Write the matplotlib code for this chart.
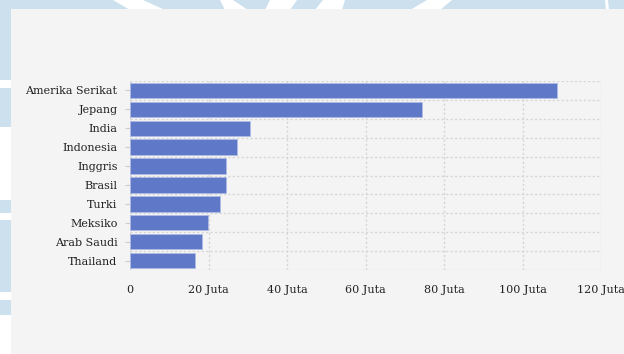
import matplotlib
matplotlib.use("Agg")
import matplotlib.pyplot as plt
from matplotlib.patches import Rectangle, Polygon
from matplotlib.ticker import FixedLocator, FuncFormatter

countries = ["Amerika Serikat", "Jepang", "India", "Indonesia", "Inggris",
             "Brasil", "Turki", "Meksiko", "Arab Saudi", "Thailand"]
values = [108.8, 74.4, 30.6, 27.3, 24.5, 24.4, 22.9, 19.9, 18.3, 16.5]  # juta
xticks = [0, 20, 40, 60, 80, 100, 120]

plt.rcParams['font.family'] = ['DejaVu Serif']

W, H = 624, 354
fig = plt.figure(figsize=(W / 100, H / 100), dpi=100)
fig.patch.set_facecolor('#cce0ee')


def px(points):
    return [(x / W, 1 - y / H) for x, y in points]


# white watermark shapes in the background strips
white_shapes = [
    [(113, 0), (143, 0), (165, 10), (130, 10)],
    [(220, 0), (233, 0), (248, 10), (225, 10)],
    [(270, 0), (297, 0), (290, 10), (265, 10)],
    [(323, 0), (345, 0), (342, 10), (315, 10)],
    [(427, 0), (452, 0), (440, 10), (410, 10)],
    [(605, 0), (608, 0), (609, 10), (606, 10)],
    [(0, 80), (12, 80), (12, 88), (0, 88)],
    [(0, 127), (12, 127), (12, 200), (0, 200)],
    [(0, 213), (12, 213), (12, 220), (0, 220)],
    [(0, 292), (12, 292), (12, 300), (0, 300)],
    [(0, 315), (12, 315), (12, 354), (0, 354)],
]
for shp in white_shapes:
    fig.patches.append(Polygon(px(shp), closed=True, transform=fig.transFigure,
                               facecolor='#ffffff', edgecolor='none', zorder=-6))

fig.patches.append(Rectangle((11 / W, 0), 1 - 11 / W, 1 - 9 / H,
                             transform=fig.transFigure, facecolor='#f4f4f4',
                             edgecolor='none', zorder=-5))

ax = fig.add_axes([130 / W, 1 - 270 / H, 471 / W, 189 / H])
ax.set_facecolor('none')
ax.set_zorder(2)

y = list(range(len(countries)))
ax.barh(y, values, height=0.82, color='#6078c8', edgecolor='#aebbe6',
        linewidth=0.6, zorder=3)

ax.set_xlim(0, 120)
ax.set_ylim(len(countries) - 0.5, -0.5)
ax.set_yticks(y)
ax.set_yticklabels(countries, fontsize=8, color='#222222')
ax.yaxis.set_minor_locator(FixedLocator([i - 0.5 for i in range(len(countries) + 1)]))
ax.set_xticks(xticks)
ax.xaxis.set_major_formatter(FuncFormatter(lambda v, p: "0" if v == 0 else f"{int(v)} Juta"))
ax.tick_params(axis='x', length=0, pad=10.5, labelsize=8, labelcolor='#222222')
ax.tick_params(axis='y', which='major', length=3.5, color='#cccccc', pad=5.5)
ax.tick_params(axis='y', which='minor', length=0)

grid_style = dict(color='#d6d6d6', linestyle=(0, (1.6, 1.6)), linewidth=1.0, zorder=1)
ax.grid(axis='x', which='major', **grid_style)
ax.grid(axis='y', which='minor', **grid_style)
ax.grid(axis='y', which='major', visible=False)

for s in ax.spines.values():
    s.set_visible(False)

fig.savefig("out.png", dpi=100, facecolor=fig.get_facecolor())
